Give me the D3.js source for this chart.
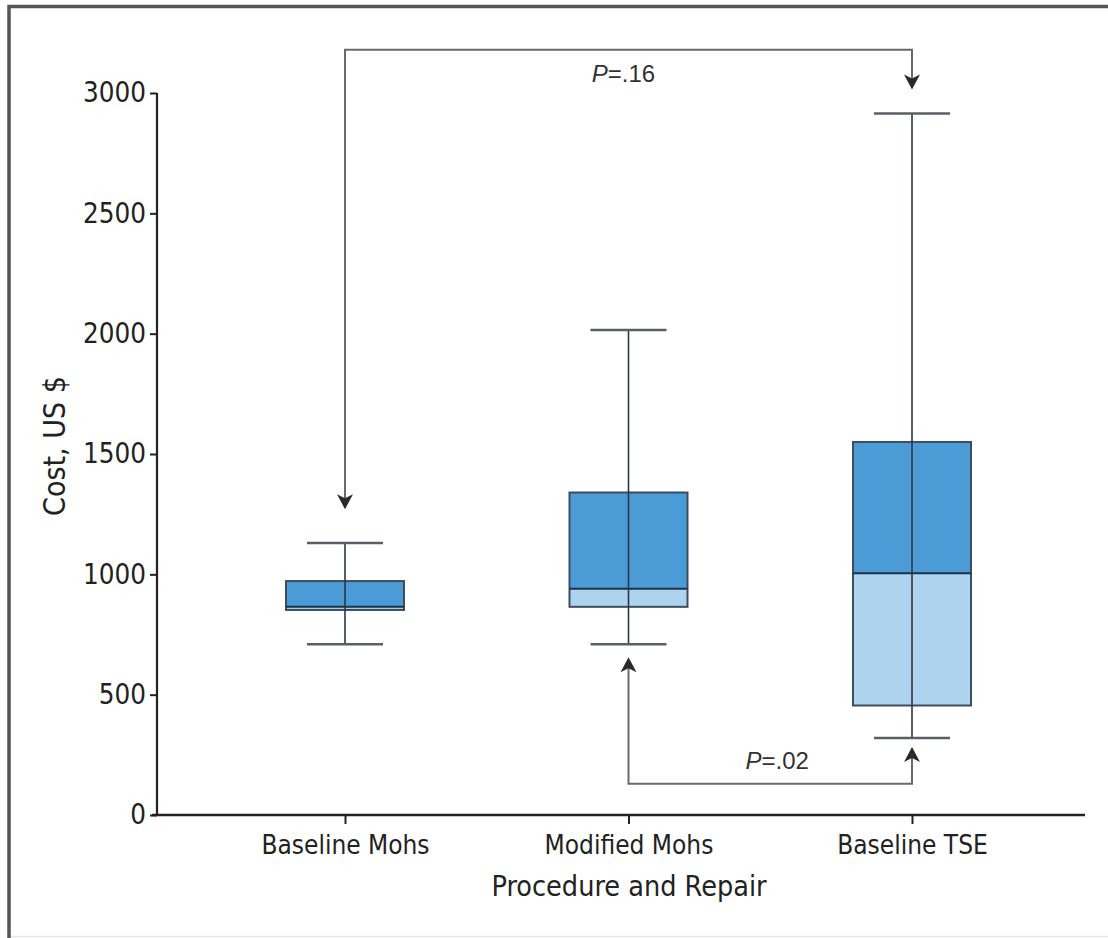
<!DOCTYPE html>
<html><head><meta charset="utf-8">
<script src="https://cdn.jsdelivr.net/npm/d3@7"></script>
<style>body{margin:0;background:#fff}</style>
</head><body><svg id="c" width="1108" height="938"></svg>
<script>
const categories = ["Baseline Mohs", "Modified Mohs", "Baseline TSE"];
const whiskerLow = [710, 710, 320];
const q1 = [852, 865, 455];
const median = [865, 940, 1005];
const q3 = [972, 1340, 1550];
const whiskerHigh = [1130, 2015, 2915];
const yTicks = [0, 500, 1000, 1500, 2000, 2500, 3000];
const yLabel = "Cost, US $";
const xLabel = "Procedure and Repair";
// comparison brackets (values in data units)
const compFrom = ["Baseline Mohs", "Modified Mohs"];
const compTo = ["Baseline TSE", "Baseline TSE"];
const compP = [".16", ".02"];
const compBracket = [3180, 130];
const compFromTip = [1270, 655];
const compToTip = [3015, 283];

const FONT = "'Liberation Sans Narrow','DejaVu Sans Condensed','Liberation Sans',sans-serif";
const svg = d3.select("#c");
// frame: dark top and left edges, faint bottom edge
svg.append("path").attr("d", "M9,938V6.5H1108").attr("fill", "none").attr("stroke", "#555").attr("stroke-width", 3.5);
svg.append("path").attr("d", "M11,936.5H1108").attr("fill", "none").attr("stroke", "#e6e6e6").attr("stroke-width", 1.5);

const y = d3.scaleLinear().domain([0, 3000]).range([815, 93]);
const x = d3.scalePoint().domain(categories).range([345, 912]);
const boxW = 118, capW = 76;

// y axis
const yAxis = svg.append("g").attr("transform", "translate(157,0)")
  .call(d3.axisLeft(y).tickValues(yTicks).tickSize(7).tickPadding(4).tickFormat(d3.format("d")));
yAxis.select(".domain").attr("stroke", "#222").attr("stroke-width", 2.2).attr("d", `M0,${y(0)}V${y(3000)}`);
yAxis.selectAll(".tick line").attr("stroke", "#222").attr("stroke-width", 2);
yAxis.selectAll(".tick text").attr("font-family", FONT).attr("font-size", 27.5).attr("fill", "#222");

// x axis
const xAxis = svg.append("g").attr("transform", `translate(0,${y(0)})`)
  .call(d3.axisBottom(x).tickSize(9).tickPadding(12));
xAxis.select(".domain").attr("stroke", "#222").attr("stroke-width", 2.6).attr("d", "M152,0H1085");
xAxis.selectAll(".tick line").attr("stroke", "#222").attr("stroke-width", 2);
xAxis.selectAll(".tick text").attr("font-family", FONT).attr("font-size", 26).attr("fill", "#222");

svg.append("text").attr("x", 629).attr("y", 896).attr("text-anchor", "middle")
  .attr("font-family", FONT).attr("font-size", 28.5).attr("fill", "#222").text(xLabel);
svg.append("text").attr("transform", "translate(65,446) rotate(-90)").attr("text-anchor", "middle")
  .attr("font-family", FONT).attr("font-size", 30).attr("fill", "#222").text(yLabel);

// boxes
const g = svg.append("g");
categories.forEach((c, i) => {
  const cx = x(c);
  g.append("rect").attr("x", cx - boxW / 2).attr("width", boxW)
    .attr("y", y(median[i])).attr("height", y(q1[i]) - y(median[i])).attr("fill", "#aed3ef");
  g.append("rect").attr("x", cx - boxW / 2).attr("width", boxW)
    .attr("y", y(q3[i])).attr("height", y(median[i]) - y(q3[i])).attr("fill", "#4b9bd7");
  g.append("rect").attr("x", cx - boxW / 2).attr("width", boxW)
    .attr("y", y(q3[i])).attr("height", y(q1[i]) - y(q3[i]))
    .attr("fill", "none").attr("stroke", "#3c4d5e").attr("stroke-width", 2);
  g.append("line").attr("x1", cx - boxW / 2).attr("x2", cx + boxW / 2)
    .attr("y1", y(median[i])).attr("y2", y(median[i])).attr("stroke", "#1e3246").attr("stroke-width", 2);
  g.append("line").attr("x1", cx).attr("x2", cx).attr("y1", y(whiskerLow[i])).attr("y2", y(whiskerHigh[i]))
    .attr("stroke", "#2b3845").attr("stroke-width", 1.6);
  [whiskerLow[i], whiskerHigh[i]].forEach(v => {
    g.append("line").attr("x1", cx - capW / 2).attr("x2", cx + capW / 2).attr("y1", y(v)).attr("y2", y(v))
      .attr("stroke", "#5a5f66").attr("stroke-width", 2.5);
  });
});

// comparison brackets
function arrow(px, py, dir) { // dir: 1 = pointing down, -1 = pointing up
  const L = 15, W = 8, n = 4;
  return `M${px},${py}L${px - W},${py - dir * L}L${px},${py - dir * (L - n)}L${px + W},${py - dir * L}Z`;
}
const a = svg.append("g");
compFrom.forEach((f, i) => {
  const x1 = x(f), x2 = x(compTo[i]);
  const by = y(compBracket[i]), t1 = y(compFromTip[i]), t2 = y(compToTip[i]);
  const dir1 = t1 > by ? 1 : -1, dir2 = t2 > by ? 1 : -1;
  a.append("path").attr("fill", "none").attr("stroke", "#6a6a6a").attr("stroke-width", 2)
    .attr("d", `M${x1},${t1 - dir1 * 10}V${by}H${x2}V${t2 - dir2 * 10}`);
  a.append("path").attr("fill", "#2a2a2a").attr("d", arrow(x1, t1, dir1));
  a.append("path").attr("fill", "#2a2a2a").attr("d", arrow(x2, t2, dir2));
  const tx = i === 0 ? (x1 + x2) / 2 - 5 : (x1 + x2) / 2 + 7;
  const ty = i === 0 ? by + 32 : by - 15;
  const t = a.append("text").attr("x", tx).attr("y", ty).attr("text-anchor", "middle")
    .attr("font-family", "'Liberation Sans','DejaVu Sans',sans-serif").attr("font-size", 24).attr("fill", "#333");
  t.append("tspan").attr("font-style", "italic").text("P");
  t.append("tspan").text("=" + compP[i]);
});
</script></body></html>
